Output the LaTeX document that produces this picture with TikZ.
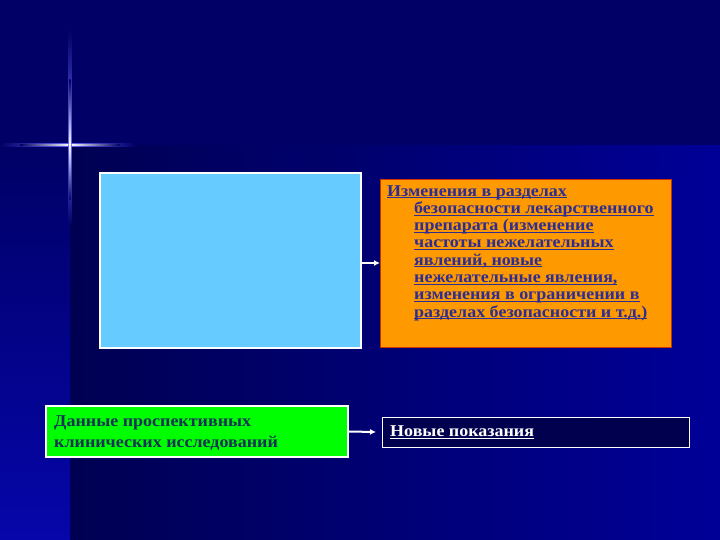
\documentclass[tikz,border=0pt]{standalone}
\usepackage{fontspec}
\setmainfont{Liberation Serif}[FakeStretch=1.09]
\usetikzlibrary{arrows.meta}
\definecolor{bgtop}{HTML}{000066}
\definecolor{bgdark}{HTML}{000052}
\definecolor{bgright}{HTML}{000098}
\definecolor{bgleft}{HTML}{0606AA}
\definecolor{lightbl}{HTML}{66CCFF}
\definecolor{orangef}{HTML}{FF9900}
\definecolor{orangeb}{HTML}{CC3300}
\definecolor{greenf}{HTML}{00FF00}
\definecolor{darkbox}{HTML}{00004E}
\definecolor{txtblue}{HTML}{2E2E92}
\definecolor{txtgreen}{HTML}{163356}
\newcommand\myul[1]{\setbox0\hbox{#1}\rlap{\rule[-2.2pt]{\wd0}{1pt}}\box0}
\tikzset{
  boxbase/.style={anchor=north west, inner sep=0pt, outer sep=0pt},
  lbbox/.style={boxbase, fill=lightbl, draw=white, line width=1.2pt},
  orbox/.style={boxbase, fill=orangef, draw=orangeb, line width=0.8pt},
  grbox/.style={boxbase, fill=greenf, draw=white, line width=1.2pt},
  dkbox/.style={boxbase, fill=darkbox, draw=white, line width=1pt},
  txt/.style={anchor=north west, inner sep=0pt, align=left, font=\bfseries\fontsize{16.5}{17.3}\selectfont},
  conn/.style={draw=white, line width=2pt, -{Latex[length=6pt,width=6pt]}}
}
\begin{document}
\begin{tikzpicture}[x=1pt,y=-1pt]
\useasboundingbox (0,0) rectangle (720,540);
% background
\fill[bgtop] (0,0) rectangle (720,540);
\shade[left color=bgdark, right color=bgright] (70,146) rectangle (720,540);
\shade[top color=bgtop, bottom color=bgleft] (0,146) rectangle (70,540);
\shade[left color=bgtop, right color=bgright, opacity=0.6] (300,146) rectangle (720,175);
% star
\shade[left color=bgtop, right color=blue!60!white] (0,143.5) rectangle (70,146.5);
\shade[left color=blue!60!white, right color=bgtop] (70,143.5) rectangle (135,146.5);
\shade[left color=bgtop, right color=white] (20,144.4) rectangle (70,145.6);
\shade[left color=white, right color=bgtop] (70,144.4) rectangle (120,145.6);
\shade[top color=bgtop, bottom color=blue!60!white] (68.5,30) rectangle (71.5,145);
\shade[top color=blue!60!white, bottom color=bgtop] (68.5,145) rectangle (71.5,225);
\shade[top color=bgtop, bottom color=white] (69.4,80) rectangle (70.6,145);
\shade[top color=white, bottom color=bgtop] (69.4,145) rectangle (70.6,200);
\fill[white] (70,145) circle (1.5);
% boxes
\node[lbbox, minimum width=261pt, minimum height=175pt] (lb) at (100,173) {};
\node[orbox, minimum width=291pt, minimum height=168pt] (or) at (380,179) {};
\node[grbox, minimum width=302pt, minimum height=51pt] (gr) at (46,406) {};
\node[dkbox, minimum width=307pt, minimum height=30pt] (dk) at (382,417) {};
% texts
\node[txt, text=txtblue] (ortxt) at (387,185) {\myul{Изменения в разделах}\\
\hspace*{27pt}\myul{безопасности лекарственного}\\
\hspace*{27pt}\myul{препарата (изменение}\\
\hspace*{27pt}\myul{частоты нежелательных}\\
\hspace*{27pt}\myul{явлений, новые}\\
\hspace*{27pt}\myul{нежелательные явления,}\\
\hspace*{27pt}\myul{изменения в ограничении в}\\
\hspace*{27pt}\myul{разделах безопасности и т.д.)}};
\node[txt, text=txtgreen, font=\bfseries\fontsize{16.5}{21.3}\selectfont] (grtxt) at (54,415) {Данные проспективных\\клинических исследований};
\node[txt, text=white, anchor=west] (dktxt) at (390,432) {\myul{Новые показания}};
% connectors
\draw[conn] (or.west -| lb.east) -- (or.west);
\draw[conn] (gr.east) -- ([xshift=-6pt]dk.west);
\end{tikzpicture}
\end{document}
